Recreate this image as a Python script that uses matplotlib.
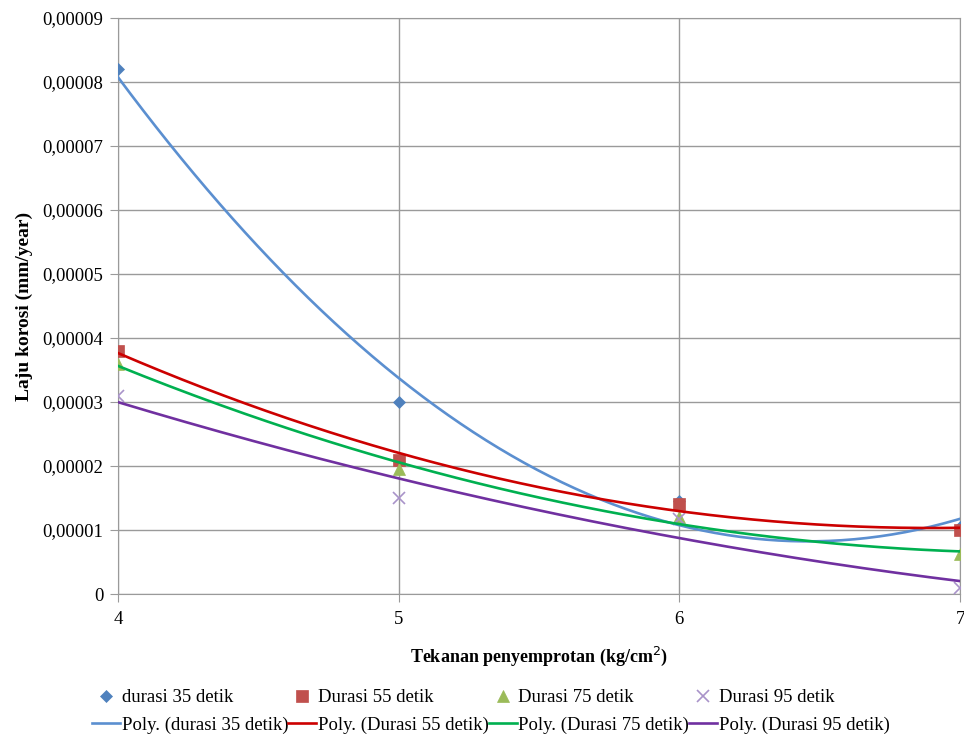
import matplotlib.pyplot as plt
import numpy as np
from matplotlib.ticker import FuncFormatter

plt.rcParams['font.family'] = ['Liberation Serif', 'DejaVu Serif']

tekanan = [4, 5, 6, 7]
durasi35 = [0.000082, 0.000030, 0.0000145, 0.0000105]
durasi55 = [0.000038, 0.000021, 0.000014, 0.000010]
durasi75 = [0.000036, 0.0000195, 0.000012, 0.0000063]
durasi95 = [0.000031, 0.000015, 0.0000118, 0.000001]

names = ['durasi 35 detik', 'Durasi 55 detik', 'Durasi 75 detik', 'Durasi 95 detik']
series = [durasi35, durasi55, durasi75, durasi95]
mcol = ['#4F81BD', '#C0504D', '#9BBB59', '#A993C9']
lcol = ['#5B8FD0', '#CC0000', '#00B050', '#7030A0']
mark = ['D', 's', '^', 'x']
msize = [6, 9, 8, 9]

fig = plt.figure(figsize=(9.64, 7.43), dpi=100)
ax = fig.add_axes([0.1224, 0.2005, 0.8735, 0.7753])

handles = []
xs = np.linspace(4, 7, 200)
for i in range(4):
    s = ax.plot(tekanan, series[i], linestyle='none', marker=mark[i], color=mcol[i],
                markersize=msize[i], markeredgewidth=1.2 if mark[i] == 'x' else 0.5,
                label=names[i], zorder=3)[0]
    coef = np.polyfit(tekanan, series[i], 2)
    l = ax.plot(xs, np.polyval(coef, xs), color=lcol[i], lw=1.9,
                label='Poly. (' + names[i] + ')', zorder=4)[0]
    handles += [s, l]

ax.set_xlim(4, 7)
ax.set_ylim(0, 0.00009)
ax.set_xticks([4, 5, 6, 7])
ax.set_yticks(np.arange(0, 0.0000901, 0.00001))
ax.yaxis.set_major_formatter(FuncFormatter(
    lambda v, p: '0' if abs(v) < 1e-12 else ('%.5f' % v).replace('.', ',')))
ax.grid(True, color='#9A9A9A', lw=1)
ax.set_axisbelow(True)
for sp in ax.spines.values():
    sp.set_color('#9A9A9A')
ax.tick_params(axis='both', colors='#9A9A9A', labelcolor='black', labelsize=13.5,
               length=5.5, direction='out')
ax.tick_params(axis='y', pad=5)
ax.tick_params(axis='x', pad=7)

ax.set_xlabel('Tekanan penyemprotan (kg/cm$^2$)', fontsize=13, fontweight='bold',
              labelpad=12)
ax.set_ylabel('Laju korosi (mm/year)', fontsize=14, fontweight='bold', labelpad=7)

fig.legend(handles=handles, loc='lower left', bbox_to_anchor=(0.08, -0.008), ncol=4,
           frameon=False, fontsize=13.5, handlelength=1.5, handletextpad=0.08,
           columnspacing=0.0, labelspacing=0.55, borderpad=0.3)

fig.savefig('out.png', dpi=100)
